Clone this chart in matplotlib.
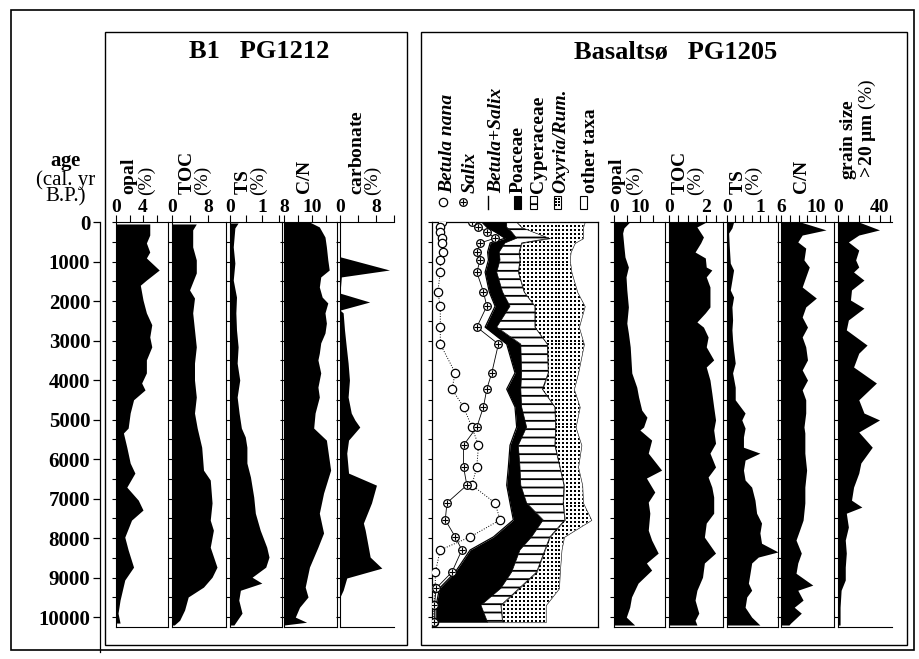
import numpy as np
import matplotlib.pyplot as plt
from matplotlib.patches import Rectangle

plt.rcParams['font.family'] = 'Liberation Serif'
plt.rcParams['mathtext.fontset'] = 'custom'
plt.rcParams['mathtext.rm'] = 'Liberation Serif'
plt.rcParams['mathtext.bf'] = 'Liberation Serif:bold'
plt.rcParams['mathtext.it'] = 'Liberation Serif:italic'
plt.rcParams['hatch.linewidth'] = 1.3

# ---------------- B1 PG1212 ----------------
opal_b1_age = [50, 330, 530, 760, 910, 1215, 1470, 1600, 1975, 2300, 2600, 2910, 3160, 3490, 3820,
               4075, 4250, 4500, 4835, 5215, 5340, 5700, 6100, 6355, 6710, 7040, 7290, 7545, 7975,
               8300, 8735, 9060, 9570, 9900, 10150]
opal_b1 = [5.0, 5.0, 4.5, 5.0, 4.5, 6.4, 4.5, 3.6, 4.0, 4.5, 5.3, 5.0, 5.3, 4.5, 4.5,
           3.8, 4.3, 2.6, 2.1, 1.8, 1.1, 1.6, 2.1, 2.8, 1.6, 3.3, 4.0, 2.3, 1.3,
           1.8, 2.6, 1.3, 0.6, 0.3, 0.6]

toc_b1_age = [50, 200, 630, 960, 1290, 1720, 1925, 2300, 2730, 3160, 3570, 4000, 4430, 4835, 5215,
              5700, 6280, 6530, 7110, 7545, 7800, 8230, 8735, 8990, 9240, 9490, 9820, 10080, 10200]
toc_b1 = [5.4, 4.6, 4.6, 5.4, 5.4, 3.9, 5.0, 4.6, 5.0, 5.4, 5.0, 5.0, 5.4, 5.0, 5.6,
          6.6, 7.0, 8.5, 8.9, 8.5, 9.2, 8.5, 10.0, 8.9, 7.0, 3.6, 2.8, 1.7, 0.5]

ts_b1_age = [25, 150, 630, 1040, 1470, 1900, 2300, 2730, 3160, 3570, 4000, 4430, 4835, 5215, 5440,
             5700, 6100, 6455, 6960, 7370, 7800, 8230, 8480, 8735, 8990, 9140, 9320, 9570, 9900,
             10080, 10200]
ts_b1 = [0.25, 0.15, 0.1, 0.15, 0.1, 0.2, 0.18, 0.2, 0.25, 0.22, 0.3, 0.22, 0.28, 0.35, 0.47,
         0.52, 0.52, 0.63, 0.73, 0.78, 0.93, 1.13, 1.2, 1.1, 0.68, 0.98, 0.32, 0.27, 0.37,
         0.22, 0.12]

cn_b1_age = [0, 125, 380, 630, 960, 1215, 1390, 1645, 1900, 2050, 2300, 2560, 2810, 3060, 3320,
             3490, 3820, 4180, 4430, 4835, 5215, 5520, 6280, 6860, 7370, 7870, 8230, 8735, 9240,
             9490, 9750, 10000, 10130, 10200]
cn_b1 = [9.8, 10.5, 10.9, 11.0, 11.1, 11.2, 10.6, 10.5, 10.7, 11.1, 10.9, 11.0, 10.9, 10.6, 10.5,
         10.4, 10.6, 10.4, 10.5, 10.2, 10.1, 11.0, 11.3, 10.8, 10.5, 10.8, 10.4, 9.8, 9.5,
         9.7, 9.1, 8.8, 9.6, 8.0]

carb_b1_age = [0, 880, 1215, 1390, 1800, 2025, 2230, 2300, 2730, 3160, 3570, 4000, 4430, 4835, 5010,
               5190, 5520, 5850, 6355, 6660, 7110, 7620, 7800, 8230, 8480, 8760, 9010, 9320, 9490,
               10200]
carb_b1 = [0, 0, 11.0, 0.3, 0, 6.6, 0, 0.7, 1.0, 1.4, 1.8, 2.1, 1.8, 2.5, 3.3,
           4.4, 1.9, 1.5, 1.9, 8.1, 7.0, 5.2, 5.6, 6.3, 6.7, 9.3, 1.5, 0.7, 0,
           0]

# ---------------- Basaltsø PG1205 : pollen (%) ----------------
pollen_age = [0, 130, 250, 410, 530, 760, 960, 1270, 1770, 2130, 2660, 3090, 3820, 4230, 4680,
              5190, 5650, 6200, 6660, 7110, 7540, 7970, 8300, 8860, 9270, 9700, 10130]
betula_nana = [6, 5, 5, 6, 6, 6.5, 5, 5, 3.5, 5, 5, 5, 14, 12, 19,
               24, 28, 27, 24, 38, 41, 23, 5, 2, 2, 1, 1]
salix = [24, 28, 33, 38, 29, 27, 29, 27, 31, 33, 27, 40, 36, 33, 31,
         27, 19, 19, 21, 9, 8, 14, 18, 12, 2.5, 1.5, 1.5]
poaceae = [15, 12, 10, 7, 9, 7, 7, 7, 8, 9, 7, 8.5, 4, 8.5, 4,
           6, 5, 7, 8.5, 10, 18, 23, 30, 34, 37, 27, 31]
cyperaceae = [6, 9, 13, 20, 10, 12, 12, 13, 13, 15, 23, 16, 16, 13, 20,
              17.5, 22, 24, 26, 22, 13, 11, 15, 15, 11, 12, 9]
oxyria_rumex = [41, 37, 30, 20, 32, 31, 30, 32, 32, 30, 26.5, 22, 18, 19, 15,
                12, 16, 11, 11, 12, 16, 8.5, 10, 14, 24, 27, 26]

# ---------------- Basaltsø PG1205 : geochemistry ----------------
opal_bs_age = [0, 150, 280, 630, 885, 1140, 1390, 1720, 2150, 2560, 2810, 3160, 3490, 3820, 4180,
               4430, 4760, 4940, 5190, 5265, 5520, 5850, 6280, 6480, 6835, 7090, 7370, 7800, 8050,
               8380, 8630, 8810, 9140, 9490, 9750, 10000, 10200]
opal_bs = [6.0, 3.8, 3.3, 3.8, 4.2, 5.5, 4.6, 4.9, 5.5, 4.9, 5.5, 6.2, 6.5, 6.8, 8.7,
           9.4, 10.6, 12.6, 11.3, 9.9, 14.4, 13.1, 18.2, 12.4, 15.6, 13.1, 13.7, 13.1, 14.4,
           16.9, 12.4, 14.4, 9.2, 6.7, 6.0, 4.7, 7.9]

toc_bs_age = [0, 125, 380, 530, 760, 910, 1140, 1215, 1390, 1645, 1900, 2150, 2300, 2530, 2660,
              2910, 3160, 3490, 3670, 4000, 4330, 4680, 5010, 5265, 5600, 5850, 6200, 6455, 6710,
              6960, 7370, 7620, 7975, 8380, 8630, 8990, 9320, 9570, 9900, 10080, 10200]
toc_bs = [2.0, 1.5, 1.85, 1.7, 1.4, 1.95, 2.0, 2.3, 2.0, 2.2, 2.2, 2.2, 1.95, 1.5, 1.85,
          2.1, 2.0, 2.4, 2.0, 2.2, 2.3, 2.4, 2.5, 2.4, 2.5, 2.2, 2.5, 2.1, 2.3,
          2.4, 2.4, 2.0, 1.9, 2.5, 1.9, 1.8, 1.5, 1.4, 1.6, 1.4, 1.5]

ts_bs_age = [0, 150, 280, 630, 1040, 1215, 1470, 1720, 1900, 2150, 2480, 2730, 2990, 3240, 3570,
             3820, 4180, 4500, 4835, 5010, 5215, 5440, 5700, 5850, 6025, 6280, 6530, 6710, 7040,
             7370, 7620, 7870, 8130, 8350, 8480, 8630, 8890, 9140, 9320, 9490, 9750, 10000, 10200]
ts_bs = [0.2, 0.15, 0.05, 0.07, 0.1, 0.2, 0.15, 0.1, 0.2, 0.15, 0.17, 0.15, 0.17, 0.2, 0.25,
         0.17, 0.25, 0.25, 0.55, 0.45, 0.55, 0.5, 0.5, 1.0, 0.55, 0.5, 0.55, 0.75, 0.85,
         0.9, 1.05, 1.0, 1.05, 1.55, 0.95, 0.75, 0.7, 0.65, 0.75, 0.6, 0.55, 0.75, 1.0]

cn_bs_age = [0, 200, 330, 505, 660, 960, 1140, 1390, 1645, 1925, 2150, 2405, 2660, 2910, 3160,
             3490, 3745, 4000, 4250, 4500, 4835, 5190, 5340, 5850, 6280, 6710, 7110, 7545, 7800,
             8050, 8380, 8630, 8890, 9190, 9320, 9570, 9750, 9900, 10150, 10200]
cn_bs = [8.2, 11.1, 8.4, 7.9, 8.8, 8.6, 9.2, 8.8, 8.4, 10.0, 8.8, 8.4, 9.0, 8.4, 8.8,
         9.0, 8.4, 9.0, 8.4, 8.8, 8.8, 8.6, 8.7, 8.7, 8.9, 8.7, 8.7, 8.5, 8.1,
         7.7, 8.3, 7.9, 7.7, 9.6, 7.9, 8.5, 7.5, 8.3, 7.1, 6.9]

grain_age = [0, 200, 330, 505, 710, 960, 1140, 1265, 1470, 1720, 1975, 2180, 2480, 2730, 3115,
             3320, 3670, 4075, 4500, 4835, 5010, 5315, 5700, 6100, 6355, 6710, 7040, 7215, 7370,
             7720, 8050, 8380, 8735, 9060, 9320, 9750, 10080, 10200]
grain = [20, 40, 20, 10, 20, 17, 20, 15, 25, 13, 12, 25, 10, 8, 28,
         20, 15, 37, 20, 25, 40, 20, 33, 22, 20, 15, 13, 23, 8,
         10, 7, 8, 7, 7, 3, 2, 2, 2]

age_ticks = np.arange(0, 10001, 1000)

W, H = 920, 659
Y_TOP, Y_BOT = 222, 627
AGE_MAX = 10250

fig = plt.figure(figsize=(W / 100, H / 100), dpi=100)

# pixel-coordinate layer for frames, titles and headers
bg = fig.add_axes([0, 0, 1, 1])
bg.set_xlim(0, W)
bg.set_ylim(H, 0)
bg.axis('off')


def px_axes(x0, x1, y0=Y_TOP, y1=Y_BOT):
    return fig.add_axes([x0 / W, 1 - y1 / H, (x1 - x0) / W, (y1 - y0) / H])


def age_ticks_only(ax):
    ax.set_ylim(AGE_MAX, 0)
    ax.set_yticks(np.arange(0, 10001, 500))
    ax.set_yticklabels([])
    ax.tick_params(axis='y', direction='out', length=3, width=0.8)


def column(x0, x1, ages, vals, lim, ticks, labels, last=False):
    ax = px_axes(x0, x1)
    ax.fill_betweenx(ages, lim[0], vals, color='black', lw=0)
    ax.set_xlim(*lim)
    age_ticks_only(ax)
    ax.xaxis.tick_top()
    ax.set_xticks(ticks)
    ax.set_xticklabels([f'{t:g}' if t in labels else '' for t in ticks],
                       fontsize=14, fontweight='bold')
    ax.tick_params(axis='x', direction='out', length=5, width=0.8, pad=-1)
    ax.spines['right'].set_visible(not last)
    for s in ax.spines.values():
        s.set_linewidth(0.8)
    return ax


def header(x, name, unit=None, y=195):
    # bold name on the left, unit beside it, both reading upward
    bold = r'$\mathbf{' + name.replace(' ', r'\ ') + '}$'
    s = bold + ('\n' + unit if unit else '')
    bg.text(x, y, s, rotation=90, ha='center', va='bottom', multialignment='left',
            fontsize=14, linespacing=0.8)


def dot_fill(ax, poly, dx, dy, size=2.2):
    # regular dot screen clipped to a filled polygon
    gx, gy = np.meshgrid(np.arange(0, 101, dx), np.arange(0, AGE_MAX + dy, dy))
    dots = ax.scatter(gx.ravel(), gy.ravel(), s=size, c='black', marker='s', lw=0, zorder=3)
    dots.set_clip_path(poly.get_paths()[0], ax.transData)


# frames
bg.add_patch(Rectangle((11, 10), 903, 640, fill=False, lw=1.2, ec='black'))
bg.add_patch(Rectangle((105, 32), 302, 613, fill=False, lw=1.0, ec='black'))
bg.add_patch(Rectangle((421, 32), 486, 613, fill=False, lw=1.0, ec='black'))

bg.text(259, 52, 'B1   PG1212', ha='center', va='center', fontsize=19, fontweight='bold')
bg.text(676, 52, 'Basaltsø   PG1205', ha='center', va='center', fontsize=19, fontweight='bold')

# age axis
bg.text(66, 180, '$\\mathbf{age}$\n(cal. yr\nB.P.)', ha='center', va='center',
        multialignment='center', fontsize=15, linespacing=0.82)

y652 = AGE_MAX * (652 - Y_TOP) / (Y_BOT - Y_TOP)
ax_age = px_axes(100, 101, Y_TOP, 652)
ax_age.set_ylim(y652, 0)
ax_age.set_yticks(age_ticks)
ax_age.set_yticklabels([str(t) for t in age_ticks], fontsize=15, fontweight='bold')
ax_age.tick_params(axis='y', direction='out', length=5, width=0.9, pad=2)
ax_age.set_xticks([])
for side in ['top', 'right', 'bottom']:
    ax_age.spines[side].set_visible(False)
ax_age.spines['left'].set_linewidth(0.9)
ax_age.patch.set_visible(False)

# B1 PG1212 columns
column(116, 168, opal_b1_age, opal_b1, (0, 7.7), [0, 2, 4, 6], [0, 4])
column(172, 226, toc_b1_age, toc_b1, (0, 12), [0, 4, 8], [0, 8])
column(230, 282, ts_b1_age, ts_b1, (0, 1.6), [0, 0.5, 1, 1.5], [0, 1])
column(284, 337, cn_b1_age, cn_b1, (8, 11.75), [8, 9, 10, 11], [8, 10])
column(340, 394, carb_b1_age, carb_b1, (0, 12), [0, 4, 8, 12], [0, 8], last=True)

# Basaltsø PG1205 columns
column(614, 665, opal_bs_age, opal_bs, (0, 19.5), [0, 5, 10, 15], [0, 10])
column(669, 723, toc_bs_age, toc_bs, (0, 2.9), [0, 0.5, 1, 1.5, 2, 2.5], [0, 2])
column(727, 778, ts_bs_age, ts_bs, (0, 1.55), [0, 0.25, 0.5, 0.75, 1, 1.25, 1.5], [0, 1])
column(781, 834, cn_bs_age, cn_bs, (6, 12), [6, 7, 8, 9, 10, 11], [6, 10])
column(838, 892, grain_age, grain, (0, 52), [0, 10, 20, 30, 40, 50], [0, 40], last=True)

# pollen diagram (cumulative percentages)
bn = np.array(betula_nana)
sx = np.array(salix)
c0 = bn + sx
c1 = c0 + np.array(poaceae)
c2 = c1 + np.array(cyperaceae)
c3 = c2 + np.array(oxyria_rumex)

axp = px_axes(432, 598)
axp.set_xlim(0, 100)
age_ticks_only(axp)
axp.set_xticks([])
axp.fill_betweenx(pollen_age, c0, c1, color='black', lw=0)
axp.fill_betweenx(pollen_age, c1, c2, facecolor='white', edgecolor='black', hatch='--', lw=0.5)
oxy = axp.fill_betweenx(pollen_age, c2, c3, facecolor='white', edgecolor='black', lw=0.4)
dot_fill(axp, oxy, 2.4, 100)
axp.plot(c0, pollen_age, color='black', lw=0.9)
axp.plot(bn, pollen_age, color='black', lw=0.7, ls=':', marker='o', ms=6,
         mfc='white', mec='black', mew=0.9, zorder=4)
axp.plot(sx, pollen_age, color='black', lw=0.6, marker='o', ms=5.5,
         mfc='white', mec='black', mew=0.9, zorder=4)
axp.plot(sx, pollen_age, ls='none', marker='+', ms=5, mec='black', mew=0.8, zorder=5)
for s in axp.spines.values():
    s.set_linewidth(0.9)

# column headers
header(137, 'opal', '(%)')
header(195, 'TOC', '(%)')
header(251, 'TS', '(%)')
header(306, 'C/N')
header(365, 'carbonate', '(%)')
header(625, 'opal', '(%)')
header(688, 'TOC', '(%)')
header(746, 'TS', '(%)')
header(803, 'C/N')
bg.text(858, 180, '$\\mathbf{grain\\ size}$\n$\\mathbf{>\\!20\\ µm}$ (%)', rotation=90,
        ha='center', va='bottom', multialignment='left', fontsize=14, linespacing=0.8)

# pollen legend
taxa = [(448, 'Betula nana', 'italic'), (470, 'Salix', 'italic'), (497, 'Betula+Salix', 'italic'),
        (518, 'Poaceae', 'normal'), (539, 'Cyperaceae', 'normal'),
        (561, 'Oxyria/Rum.', 'italic'), (591, 'other taxa', 'normal')]
for x, name, style in taxa:
    bg.text(x, 193, name, rotation=90, ha='center', va='bottom', fontsize=14,
            fontweight='bold', fontstyle=style)
bg.plot(443, 202, marker='o', ms=6, mfc='white', mec='black', mew=0.9)
bg.plot(463, 202, marker='o', ms=5.5, mfc='white', mec='black', mew=0.9)
bg.plot(463, 202, marker='+', ms=5, mec='black', mew=0.8)
bg.plot([488, 488], [196, 209], color='black', lw=1.0)
bg.add_patch(Rectangle((514, 196), 7, 13, facecolor='black', edgecolor='black', lw=0.8))
bg.add_patch(Rectangle((530, 196), 7, 13, facecolor='white', edgecolor='black', hatch='--', lw=0.8))
bg.add_patch(Rectangle((554, 196), 7, 13, facecolor='white', edgecolor='black', lw=0.8))
lx, ly = np.meshgrid([556, 559], [199, 202, 205])
bg.scatter(lx.ravel(), ly.ravel(), s=1.6, c='black', marker='s', lw=0)
bg.add_patch(Rectangle((580, 196), 7, 13, facecolor='white', edgecolor='black', lw=0.8))

fig.savefig('out.png', dpi=100)
